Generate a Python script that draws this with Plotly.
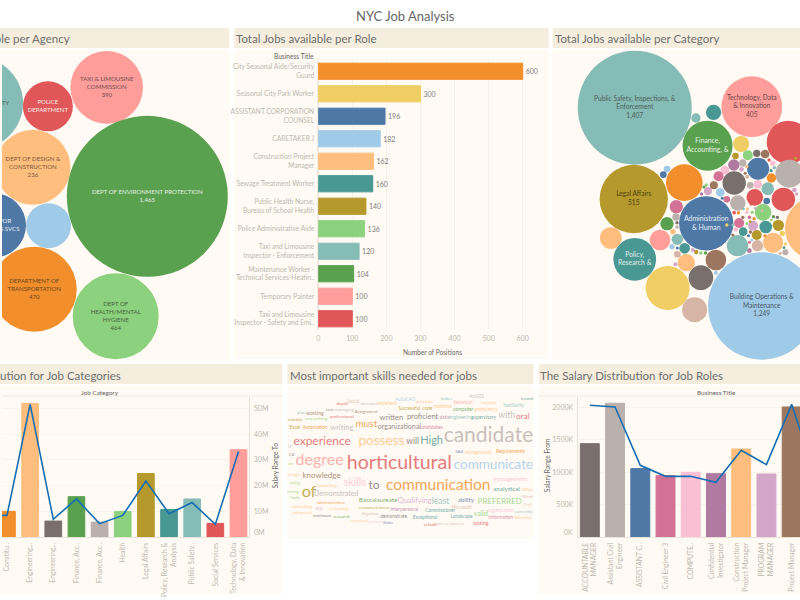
import plotly.graph_objects as go

W, H = 800, 600
FONT = "Lato"
PANEL = "#FFFAF3"
BAR_T = "#F5EEDE"
TXT = "#6b6b6b"
TICK = "#bcb9b1"
LINE = "#136FB3"
TITLE_C = "#6e6e6e"
C = dict(blue="#4E79A7", ltblue="#A0CBE8", orange="#F28E2B", ltorange="#FFBE7D", green="#59A14F",
         ltgreen="#8CD17D", olive="#B6992D", yellow="#F1CE63", teal="#499894", ltteal="#86BCB6",
         red="#E15759", pink="#FF9D9A", grey="#79706E", ltgrey="#BAB0AC", dpink="#D37295",
         ltpink="#FABFD2", purple="#B07AA1", ltpurple="#D4A6C8", brown="#9D7660", ltbrown="#D7B5A6")

# ---- data ----
agency_labels = ["TAXI & LIMOUSINE<br>COMMISSION<br>390", "POLICE<br>DEPARTMENT", "HOUSING AUTHORITY",
                 "DEPT OF DESIGN &<br>CONSTRUCTION<br>236", "DEPT OF ENVIRONMENT PROTECTION<br>1,465",
                 "ADMIN FOR<br>CHILDREN'S SVCS", "", "DEPARTMENT OF<br>TRANSPORTATION<br>470",
                 "DEPT OF<br>HEALTH/MENTAL<br>HYGIENE<br>464"]
agency_colors = ["pink", "red", "ltteal", "ltorange", "green", "blue", "ltblue", "orange", "ltgreen"]
agency_text = ["#6a5050", "#fbe9e6", "#55665f", "#75593c", "#e6efe2", "#e6edf3", "#555", "#6a4822", "#47613f"]
# bubble packing (units: 1/3 px)
agency_px = [315, 138, -75, 93, 437, -24, 140, 97, 342]
agency_py = [262, 319, 309, 502, 589, 676, 677, 868, 949]
agency_d = [218, 150, 276, 225, 483, 192, 135, 255, 258]

role_names = ["City Seasonal Aide/Security<br>Guard", "Seasonal City Park Worker",
              "ASSISTANT CORPORATION<br>COUNSEL", "CARETAKER J", "Construction Project<br>Manager",
              "Sewage Treatment Worker", "Public Health Nurse,<br>Bureau of School Health",
              "Police Administrative Aide", "Taxi and Limousine<br>Inspector - Enforcement",
              "Maintenance Worker -<br>Technical Services-Heatin..", "Temporary Painter",
              "Taxi and Limousine<br>Inspector - Safety and Emi.."]
role_positions = [600, 300, 196, 182, 162, 160, 140, 136, 120, 104, 100, 100]
role_colors = ["orange", "yellow", "blue", "ltblue", "ltorange", "teal", "olive", "ltgreen",
               "ltteal", "green", "pink", "red"]

cat_labels = {0: "Public Safety, Inspections, &<br>Enforcement<br>1,407",
              1: "Technology, Data<br>& Innovation<br>405",
              4: "Finance,<br>Accounting, &",
              7: "Legal Affairs<br>515",
              9: "Administration<br>& Human",
              10: "Policy,<br>Research &",
              19: "Building Operations &<br>Maintenance<br>1,249"}
cat_text = {0: "#4d5f5c", 1: "#6b4a4a", 4: "#eaf0e6", 7: "#4f4310", 9: "#e6edf3", 10: "#e0eeec", 19: "#47586a"}
cat_bubbles = [
    (253, 248, 342, "ltteal"), (605, 245, 182, "pink"), (490, 262, 46, "teal"), (437, 279, 28, "ltteal"),
    (472, 362, 150, "green"), (573, 357, 48, "yellow"), (715, 352, 130, "red"), (250, 522, 205, "olive"),
    (402, 473, 110, "orange"), (468, 595, 163, "blue"), (253, 703, 128, "teal"), (181, 639, 65, "ltorange"),
    (329, 645, 62, "pink"), (352, 789, 132, "yellow"), (452, 758, 74, "grey"), (433, 854, 75, "ltbrown"),
    (408, 713, 52, "ltorange"), (497, 705, 62, "brown"), (562, 662, 64, "ltteal"), (635, 843, 322, "ltblue"),
    (800, 610, 190, "ltorange"), (552, 474, 70, "grey"), (563, 534, 46, "ltgrey"), (624, 431, 66, "blue"),
    (718, 446, 84, "ltgrey"), (614, 517, 50, "red"), (700, 523, 70, "red"), (653, 491, 38, "ltteal"),
    (639, 562, 50, "ltgreen"), (647, 606, 38, "teal"), (685, 601, 34, "olive"), (669, 653, 60, "ltorange"),
    (622, 662, 34, "ltbrown"), (620, 630, 30, "olive"), (551, 420, 34, "purple"), (593, 391, 30, "ltgreen"),
    (620, 385, 22, "grey"), (645, 387, 26, "brown"), (578, 414, 22, "ltgrey"), (556, 393, 20, "olive"),
    (524, 435, 26, "ltpink"), (505, 454, 30, "dpink"), (350, 432, 20, "ltblue"), (339, 449, 20, "blue"),
    (378, 545, 40, "dpink"), (377, 576, 22, "ltgrey"), (350, 596, 40, "green"), (381, 643, 34, "ltteal"),
    (403, 670, 32, "teal"), (365, 665, 16, "ltblue"), (381, 688, 20, "ltbrown"), (664, 459, 28, "orange"),
    (623, 478, 26, "ltpink"), (600, 481, 20, "ltgrey"), (650, 528, 20, "blue"), (609, 602, 30, "ltpurple"),
    (567, 594, 30, "dpink"), (579, 620, 26, "teal"), (473, 498, 24, "ltpurple"), (491, 481, 24, "brown"),
    (510, 502, 26, "ltblue"), (530, 523, 20, "dpink"), (733, 495, 14, "ltpurple"), (740, 507, 10, "ltpurple"),
    (737, 400, 10, "olive"), (668, 415, 16, "ltpink"), (657, 405, 10, "red"), (673, 428, 10, "ltteal"),
    (663, 437, 10, "teal"), (706, 682, 18, "ltgrey"), (690, 685, 10, "ltbrown"), (697, 625, 16, "yellow"),
    (706, 657, 10, "yellow"), (598, 677, 14, "purple"), (375, 718, 12, "ltpurple"), (438, 681, 13, "olive"),
    (452, 684, 10, "ltgreen"), (466, 684, 10, "green"), (428, 675, 12, "ltpurple"), (497, 743, 12, "ltblue"),
    (368, 620, 16, "ltorange"), (380, 606, 10, "ltgrey"), (380, 593, 10, "grey"), (381, 669, 9, "blue"),
    (454, 507, 10, "purple"), (468, 480, 10, "ltgreen"), (461, 486, 9, "green"), (516, 520, 9, "blue"),
    (552, 563, 11, "red"), (565, 563, 10, "orange"), (578, 577, 10, "brown"), (592, 552, 9, "ltorange"),
    (590, 562, 10, "ltpink"), (598, 577, 11, "dpink"), (600, 590, 8, "olive"), (612, 581, 10, "orange"),
    (580, 552, 8, "ltteal"), (590, 596, 8, "ltgreen"), (557, 613, 14, "ltpink"), (601, 621, 10, "brown"),
    (595, 632, 9, "blue"), (605, 645, 9, "ltblue"), (598, 652, 9, "dpink"), (644, 632, 9, "orange"),
    (670, 575, 10, "green"), (682, 577, 10, "grey"), (664, 585, 8, "ltgreen"), (591, 455, 12, "ltbrown"),
    (574, 433, 14, "ltpurple"), (585, 445, 9, "brown"), (590, 425, 10, "ltorange"), (603, 538, 8, "red"),
    (616, 550, 8, "ltgrey"), (530, 600, 10, "yellow"), (548, 600, 9, "ltteal"), (548, 630, 9, "brown"),
    (702, 668, 8, "teal"), (636, 557, 8, "ltbrown"), (606, 562, 9, "ltgreen"),
]

job_cats = ["Communications", "Constitu..", "Engineering,..", "Engineering,..", "Finance, Acc..", "Finance, Acc..",
            "Health", "Legal Affairs", "Policy, Research &<br>Analysis", "Public Safety..",
            "Social Services", "Technology, Data<br>& Innovation"]
job_bars = [9, 10, 52, 6.2, 15.7, 5.8, 9.9, 24.7, 10.7, 14.8, 5.3, 34]
job_line = [8.5, 8.4, 51.6, 6.9, 14.8, 5.2, 8.4, 21.8, 9.1, 13.4, 4.9, 33.3]
job_colors = ["ltblue", "orange", "ltorange", "grey", "green", "ltgrey", "ltgreen", "olive", "teal",
              "ltteal", "red", "pink"]
job_ticks = [10, 20, 30, 40, 50]

roles2 = ["ACCOUNTABLE<br>MANAGER", "Assistant Civil<br>Engineer", "ASSISTANT C..", "Civil Engineer 3",
          "COMPUTE..", "Confidential<br>Investigator", "Construction<br>Project Manager",
          "PROGRAM<br>MANAGER", "Project Manager", "Senior Estimator"]
roles2_bars = [1440, 2063, 1055, 947, 998, 977, 1358, 972, 2006, 900]
roles2_line = [2032, 2006, 1106, 936, 936, 844, 1337, 1116, 2047, 864]
roles2_colors = ["grey", "ltgrey", "blue", "dpink", "ltpink", "purple", "ltorange", "ltpurple", "brown", "ltbrown"]
sal_ticks = [500, 1000, 1500, 2000]

# word, x, y (1/3 px), font px, colour
words = [
    ("candidate", 608, 225, 21, "ltgrey"), ("horticultural", 340, 305, 19.5, "red"),
    ("communication", 457, 373, 15.5, "orange"), ("communicate", 623, 312, 13.5, "ltblue"),
    ("degree", 100, 296, 16, "pink"), ("experience", 108, 240, 12, "red"), ("possess", 286, 238, 13.5, "ltorange"),
    ("High", 437, 238, 11, "teal"), ("will", 380, 240, 8.5, "grey"), ("of", 68, 394, 16, "olive"),
    ("to", 264, 373, 12, "grey"), ("skills", 206, 364, 10.5, "ltpink"), ("knowledge", 106, 341, 8, "brown"),
    ("must", 241, 186, 10, "orange"), ("written", 316, 167, 7.5, "grey"), ("proficient", 410, 166, 7.5, "grey"),
    ("with", 663, 161, 8.5, "ltgrey"), ("oral", 711, 164, 8, "red"), ("writing", 167, 197, 7.5, "ltgrey"),
    ("organizational", 340, 195, 7, "grey"), ("candidates", 435, 198, 5, "dpink"),
    ("Excel", 26, 198, 4.8, "olive"), ("Automation", 86, 198, 4.8, "orange"),
    ("Demonstrated", 150, 397, 7, "ltgrey"), ("Baccalaureate", 276, 415, 6.3, "green"),
    ("Qualifying", 386, 418, 7.5, "ltpurple"), ("least", 464, 420, 8.5, "ltteal"),
    ("ability", 540, 415, 6.2, "blue"), ("PREFERRED", 642, 420, 8, "ltgreen"),
    ("analytical", 662, 383, 6.5, "teal"), ("management", 673, 351, 6, "ltpink"),
    ("Requirements", 674, 270, 4.8, "orange"), ("background", 577, 271, 5, "ltorange"), ("SAS", 520, 270, 4.5, "blue"),
    ("valid", 585, 458, 7, "ltgreen"), ("Office", 725, 384, 4.5, "ltorange"), ("Word", 725, 405, 4.5, "ltbrown"),
    ("Civil", 725, 428, 4.5, "ltbrown"), ("currently", 713, 450, 4.5, "ltteal"), ("Directive", 713, 468, 4.5, "ltorange"),
    ("organization", 645, 447, 4.8, "ltpink"), ("information", 645, 467, 4.8, "dpink"), ("looking", 585, 486, 4.8, "red"),
    ("Landscape", 527, 464, 4.8, "teal"), ("Microsoft", 527, 438, 4.8, "ltbrown"), ("Commissioner", 463, 447, 4.8, "teal"),
    ("Exceptional", 417, 468, 4.8, "teal"), ("interpersonal", 355, 443, 4.8, "purple"), ("demonstrate", 323, 463, 4.8, "grey"),
    ("resourcefulness", 264, 438, 4.5, "olive"), ("litigation", 252, 456, 4.5, "ltbrown"), ("reviewing", 158, 441, 4.5, "ltorange"),
    ("research", 166, 464, 4.5, "green"), ("minimum", 108, 463, 4.5, "grey"), ("administrative", 134, 422, 4.5, "orange"),
    ("SQL", 100, 441, 4.5, "ltpurple"), ("consulting", 48, 434, 4.5, "ltorange"), ("advanced", 48, 453, 4.5, "ltorange"),
    ("Strong", 18, 390, 4.5, "ltgreen"), ("Tools", 26, 408, 4.5, "ltgreen"), ("using", 26, 362, 4.5, "ltgreen"),
    ("Design", 20, 338, 4.5, "ltorange"), ("leadership", 122, 371, 4.5, "ltorange"), ("required", 220, 477, 4.5, "ltorange"),
    ("proven", 268, 481, 4.5, "ltpink"), ("State", 306, 483, 4.5, "blue"), ("school", 433, 488, 4.5, "red"),
    ("mastery", 463, 487, 4.5, "ltbrown"), ("interest", 512, 485, 4.5, "ltbrown"),
    ("AutoCAD", 358, 114, 4.8, "ltblue"), ("prioritize", 416, 119, 4.5, "ltorange"), ("folder", 481, 112, 4.5, "ltteal"),
    ("ArcGIS", 572, 103, 4.8, "ltgrey"), ("record", 724, 110, 4.5, "teal"), ("technical", 532, 122, 4.8, "pink"),
    ("analytic", 610, 122, 4.5, "ltorange"), ("familiarity", 684, 131, 4.8, "ltteal"), ("statistics", 470, 135, 4.8, "ltorange"),
    ("Successful", 370, 139, 4.8, "olive"), ("code", 424, 139, 4.8, "olive"), ("computer", 532, 144, 4.8, "green"),
    ("proficiency", 600, 142, 4.8, "ltorange"), ("excellent", 304, 126, 4.8, "ltorange"), ("oriented", 250, 127, 4.5, "ltgrey"),
    ("Social", 201, 119, 4.8, "ltbrown"), ("depth", 168, 126, 4.5, "red"), ("test", 131, 145, 4.5, "grey"),
    ("managing", 175, 145, 4.5, "ltgrey"), ("Assignment", 240, 149, 4.5, "brown"), ("plus", 44, 154, 4.5, "ltteal"),
    ("working", 86, 154, 5, "brown"), ("professional", 167, 165, 4.5, "red"), ("researching", 90, 172, 4.5, "ltgreen"),
    ("suitable", 27, 174, 4.5, "olive"), ("data", 475, 166, 4.8, "purple"), ("engineering", 525, 166, 4.8, "ltteal"),
    ("supervisory", 594, 167, 4.8, "teal"), ("IT", 11, 254, 4.5, "ltgrey"), ("C#", 16, 279, 4.5, "grey"),
    ("an", 13, 306, 4.5, "ltgreen"),
]


def px_x(v):
    return v / W


def px_y(v):
    return 1 - v / H


def col(name):
    return C[name]


fig = go.Figure()
shapes, ann = [], []


def note(x, y, text, size=7.5, color=TXT, angle=0, anchor="center"):
    ann.append(dict(xref="paper", yref="paper", x=px_x(x), y=px_y(y), text=text,
                    showarrow=False, xanchor=anchor, yanchor="middle", textangle=angle,
                    font=dict(family=FONT, size=size, color=color), borderpad=0, borderwidth=0))


panels = [
    (-2, 228, 28, 48, 50, 361),
    (233, 548, 28, 48, 50, 359),
    (552, 802, 28, 48, 50, 360),
    (-2, 281, 364, 384, 386, 594),
    (286, 533, 364, 384, 386, 539),
    (538, 802, 364, 384, 386, 594),
]
for x0, x1, t0, t1, b0, b1 in panels:
    shapes.append(dict(type="rect", xref="paper", yref="paper", layer="below", x0=px_x(x0), x1=px_x(x1),
                       y0=px_y(t1), y1=px_y(t0), fillcolor=BAR_T, line_width=0))
    shapes.append(dict(type="rect", xref="paper", yref="paper", layer="below", x0=px_x(x0), x1=px_x(x1),
                       y0=px_y(b1), y1=px_y(b0), fillcolor=PANEL, line_width=0))

note(404.5, 16, "NYC Job Analysis", size=13, color="#666666")
note(68, 39, "Total Jobs available per Agency", size=11.5, color=TITLE_C, anchor="right")
note(235, 39, "Total Jobs available per Role", size=11.5, color=TITLE_C, anchor="left")
note(554, 39, "Total Jobs available per Category", size=11.5, color=TITLE_C, anchor="left")
note(119, 375, "The Salary Distribution for Job Categories", size=11.5, color=TITLE_C, anchor="right")
note(288.5, 375, "Most important skills needed for jobs", size=11.5, color=TITLE_C, anchor="left")
note(539.5, 375, "The Salary Distribution for Job Roles", size=11.5, color=TITLE_C, anchor="left")


def hide(**kw):
    return dict(visible=False, fixedrange=True, **kw)


layout_axes = {}


def dom(x0, x1, y0, y1):
    return [px_x(x0), px_x(x1)], [px_y(y1), px_y(y0)]


# ---- agency bubbles ----
dx, dy = dom(0, 228, 50, 361)
layout_axes["xaxis"] = hide(domain=dx, range=[0, 684])
layout_axes["yaxis"] = hide(domain=dy, range=[1083, 150])
fig.add_trace(go.Scatter(
    x=agency_px, y=agency_py, mode="markers+text", text=agency_labels, textposition="middle center",
    textfont=dict(family=FONT, size=6.1, color=agency_text),
    marker=dict(size=[d / 3 for d in agency_d], color=[col(c) for c in agency_colors], opacity=1,
                line=dict(width=0)), xaxis="x", yaxis="y", showlegend=False, hoverinfo="skip"))

# ---- role bars ----
dx, dy = dom(317, 548, 60, 330)
layout_axes["xaxis2"] = dict(domain=dx, range=[0, 231 / 0.3417], tickvals=[0, 100, 200, 300, 400, 500, 600],
                             showgrid=True, gridcolor="#F7F2E8", gridwidth=1, zeroline=True, zerolinecolor="#EFEAE0",
                             showline=False, ticks="", ticklabelstandoff=3,
                             tickfont=dict(family=FONT, size=7, color=TICK), anchor="y2", fixedrange=True)
layout_axes["yaxis2"] = dict(domain=dy, autorange=False, range=[11.5, -0.5], tickmode="array",
                             tickvals=list(range(12)), ticktext=role_names, showgrid=False, zeroline=False,
                             showline=False, ticks="", ticklabelstandoff=3,
                             tickfont=dict(family=FONT, size=6.7, color=TICK), anchor="x2", fixedrange=True)
fig.add_trace(go.Bar(x=role_positions, y=list(range(12)), orientation="h", text=role_positions,
                     textposition="outside", cliponaxis=False,
                     textfont=dict(family=FONT, size=7, color="#808080"),
                     marker=dict(color=[col(c) for c in role_colors], line=dict(color=[col(c) for c in role_colors], width=1)),
                     width=0.72, xaxis="x2", yaxis="y2", showlegend=False, hoverinfo="skip"))
note(313, 56, "Business Title", size=6.6, color="#666", anchor="right")
note(432, 352, "Number of Positions", size=6.6, color="#666")

# ---- category bubbles ----
dx, dy = dom(552, 800, 50, 360)
layout_axes["xaxis3"] = hide(domain=dx, range=[6, 750], anchor="y3")
layout_axes["yaxis3"] = hide(domain=dy, range=[1005, 75], anchor="x3")
fig.add_trace(go.Scatter(
    x=[b[0] for b in cat_bubbles], y=[b[1] for b in cat_bubbles], mode="markers",
    marker=dict(size=[b[2] / 3 for b in cat_bubbles], color=[col(b[3]) for b in cat_bubbles], opacity=1,
                line=dict(width=0)),
    xaxis="x3", yaxis="y3", showlegend=False, hoverinfo="skip"))
fig.add_trace(go.Scatter(
    x=[cat_bubbles[i][0] for i in cat_labels], y=[cat_bubbles[i][1] for i in cat_labels], mode="text",
    text=list(cat_labels.values()), textposition="middle center",
    textfont=dict(family=FONT, size=[6.6, 6.6, 6.8, 6.6, 6.9, 6.8, 6.6], color=[cat_text[i] for i in cat_labels]),
    xaxis="x3", yaxis="y3", showlegend=False, hoverinfo="skip"))

# ---- job category bars + line ----
dx, dy = dom(0, 248, 397, 537)
layout_axes["xaxis4"] = dict(domain=dx, range=[0.785, 11.47], tickmode="array", tickvals=list(range(12)), ticktext=job_cats,
                             tickangle=-90, showgrid=False, zeroline=False, showline=True, linecolor="#E8E3D8", ticks="",
                             ticklabelstandoff=2, tickfont=dict(family=FONT, size=6.8, color=TICK), anchor="y4", fixedrange=True)
layout_axes["yaxis4"] = dict(domain=dy, range=[0, 54.5], side="right", tickmode="array", tickvals=job_ticks,
                             ticktext=[f"{v}M" for v in job_ticks], showgrid=True, gridcolor="#F9F4EA", zeroline=False,
                             showline=True, linecolor="#E8E3D8", ticks="", ticklabelstandoff=2,
                             tickfont=dict(family=FONT, size=7, color=TICK), anchor="x4", fixedrange=True)
fig.add_trace(go.Bar(x=list(range(12)), y=job_bars, width=0.72,
                     marker=dict(color=[col(c) for c in job_colors], line=dict(color=[col(c) for c in job_colors], width=1)),
                     xaxis="x4", yaxis="y4", showlegend=False, hoverinfo="skip"))
fig.add_trace(go.Scatter(x=list(range(12)), y=job_line, mode="lines", line=dict(color=LINE, width=1.6),
                         xaxis="x4", yaxis="y4", showlegend=False, hoverinfo="skip"))
note(98, 392, "Job Category", size=6.4, color="#666")
note(274, 466, "Salary Range To", size=6.6, color="#666", angle=-90)
note(253, 532, "0M", size=7, color=TICK, anchor="left")
shapes.append(dict(type="line", xref="paper", yref="paper", x0=px_x(0), x1=px_x(281), y0=px_y(396), y1=px_y(396),
                   line=dict(color="#EFEAE0", width=1)))

# ---- role salary bars + line ----
dx, dy = dom(577, 800, 397, 537)
layout_axes["xaxis5"] = dict(domain=dx, range=[-0.486, 8.33], tickmode="array", tickvals=list(range(10)), ticktext=roles2,
                             tickangle=-90, showgrid=False, zeroline=False, showline=True, linecolor="#E8E3D8", ticks="",
                             ticklabelstandoff=2, tickfont=dict(family=FONT, size=6.8, color=TICK), anchor="y5", fixedrange=True)
layout_axes["yaxis5"] = dict(domain=dy, range=[0, 2160], side="left", tickmode="array", tickvals=sal_ticks,
                             ticktext=[f"{v}K" for v in sal_ticks], showgrid=True, gridcolor="#F9F4EA", zeroline=False,
                             showline=True, linecolor="#E8E3D8", ticks="", ticklabelstandoff=2,
                             tickfont=dict(family=FONT, size=7, color=TICK), anchor="x5", fixedrange=True)
fig.add_trace(go.Bar(x=list(range(10)), y=roles2_bars, width=0.75,
                     marker=dict(color=[col(c) for c in roles2_colors], line=dict(color=[col(c) for c in roles2_colors], width=1)),
                     xaxis="x5", yaxis="y5", showlegend=False, hoverinfo="skip"))
fig.add_trace(go.Scatter(x=list(range(10)), y=roles2_line, mode="lines", line=dict(color=LINE, width=1.6),
                         xaxis="x5", yaxis="y5", showlegend=False, hoverinfo="skip"))
note(716, 392, "Business Title", size=6.4, color="#666")
note(546.5, 466, "Salary Range From", size=6.6, color="#666", angle=-90)
note(572, 532, "0K", size=7, color=TICK, anchor="right")
shapes.append(dict(type="line", xref="paper", yref="paper", x0=px_x(538), x1=px_x(800), y0=px_y(396), y1=px_y(396),
                   line=dict(color="#EFEAE0", width=1)))

# ---- word cloud ----
dx, dy = dom(286, 533, 386, 539)
layout_axes["xaxis6"] = hide(domain=dx, range=[3, 744], anchor="y6")
layout_axes["yaxis6"] = hide(domain=dy, range=[531, 72], anchor="x6")
fig.add_trace(go.Scatter(
    x=[w[1] for w in words], y=[w[2] for w in words], mode="text", text=[w[0] for w in words],
    textposition="middle center", opacity=0.78,
    textfont=dict(family=FONT, size=[w[3] for w in words], color=[col(w[4]) for w in words]),
    xaxis="x6", yaxis="y6", showlegend=False, hoverinfo="skip"))

fig.update_layout(width=W, height=H, margin=dict(l=0, r=0, t=0, b=0, pad=0), paper_bgcolor="white",
                  plot_bgcolor="rgba(0,0,0,0)", shapes=shapes, annotations=ann, bargap=0.26,
                  font=dict(family=FONT), **layout_axes)

fig.write_html("out.html", config=dict(displayModeBar=False),
               post_script="document.documentElement.style.overflow='hidden';document.body.style.margin='0';")
